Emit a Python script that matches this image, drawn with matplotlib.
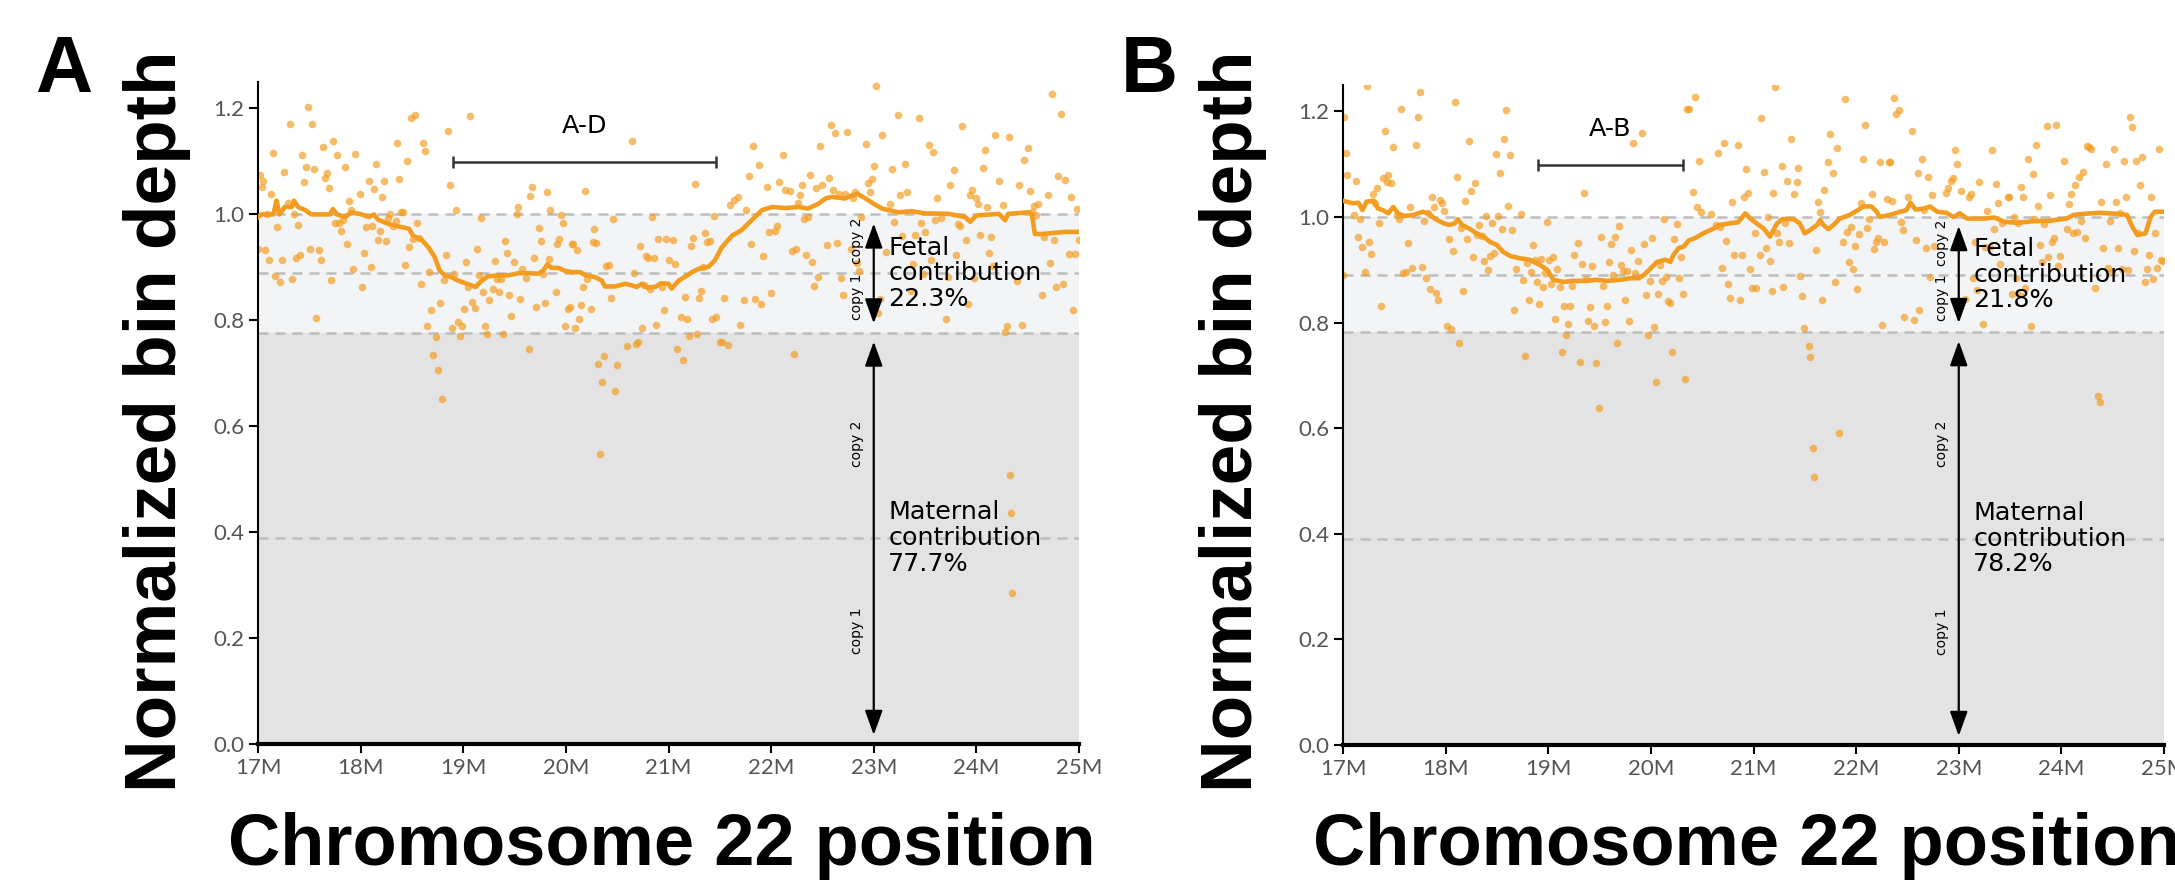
import matplotlib.pyplot as plt
from matplotlib.ticker import FixedLocator, FuncFormatter

# ---- panel A: bin positions (Mb) and normalized depth ----
a_pos = [
    17.02, 17.04, 17.05, 17.00, 17.07, 17.09, 17.11, 17.13, 17.15, 17.17, 17.19, 17.21, 17.23, 17.25,
    17.29, 17.31, 17.33, 17.35, 17.37, 17.39, 17.41, 17.43, 17.45, 17.47, 17.49, 17.51, 17.53, 17.55,
    17.57, 17.59, 17.61, 17.63, 17.65, 17.67, 17.69, 17.71, 17.73, 17.75, 17.77, 17.79, 17.81, 17.83,
    17.85, 17.87, 17.89, 17.91, 17.93, 17.95, 17.99, 18.01, 18.03, 18.05, 18.08, 18.10, 18.11, 18.13,
    18.15, 18.17, 18.19, 18.21, 18.23, 18.25, 18.27, 18.29, 18.32, 18.34, 18.35, 18.37, 18.39, 18.41,
    18.43, 18.45, 18.47, 18.49, 18.51, 18.53, 18.55, 18.57, 18.59, 18.61, 18.63, 18.65, 18.67, 18.69,
    18.71, 18.73, 18.75, 18.77, 18.79, 18.81, 18.83, 18.85, 18.87, 18.89, 18.91, 18.93, 18.95, 18.97,
    18.99, 19.01, 19.03, 19.05, 19.07, 19.09, 19.11, 19.13, 19.15, 19.17, 19.19, 19.21, 19.23, 19.25,
    19.29, 19.31, 19.33, 19.35, 19.37, 19.39, 19.41, 19.43, 19.45, 19.47, 19.49, 19.52, 19.53, 19.55,
    19.57, 19.61, 19.64, 19.65, 19.67, 19.69, 19.71, 19.74, 19.76, 19.78, 19.80, 19.82, 19.84, 19.85,
    19.90, 19.91, 19.93, 19.95, 19.97, 19.99, 20.02, 20.04, 20.06, 20.07, 20.09, 20.11, 20.13, 20.15,
    20.17, 20.19, 20.21, 20.24, 20.26, 20.27, 20.29, 20.31, 20.33, 20.35, 20.37, 20.39, 20.42, 20.44,
    20.46, 20.48, 20.50, 20.60, 20.64, 20.66, 20.68, 20.70, 20.72, 20.74, 20.76, 20.78, 20.80, 20.82,
    20.84, 20.86, 20.88, 20.90, 20.94, 20.96, 20.98, 21.00,
    21.04, 21.06, 21.08, 21.12, 21.14, 21.16, 21.18, 21.20, 21.22, 21.24, 21.26, 21.28, 21.30, 21.32,
    21.34, 21.36, 21.38, 21.40, 21.42, 21.44, 21.46, 21.50, 21.52, 21.54, 21.58, 21.60, 21.64, 21.68,
    21.70, 21.74, 21.76, 21.78, 21.80, 21.82, 21.84, 21.88, 21.90, 21.92, 21.96, 21.98, 22.00, 22.04,
    22.06, 22.08, 22.12, 22.14, 22.18, 22.20, 22.22, 22.24, 22.26, 22.28, 22.30, 22.32, 22.34, 22.36,
    22.38, 22.40, 22.42, 22.44, 22.46, 22.48, 22.50, 22.54, 22.56, 22.58, 22.60, 22.62, 22.64, 22.66,
    22.68, 22.70, 22.72, 22.74, 22.78, 22.80, 22.82, 22.84, 22.86, 22.88, 22.92, 22.94, 22.96, 22.98,
    23.00, 23.02, 23.04, 23.06, 23.08, 23.12, 23.16, 23.18, 23.20, 23.24, 23.26, 23.28, 23.30, 23.32,
    23.36, 23.38, 23.40, 23.44, 23.46, 23.48, 23.50, 23.54, 23.56, 23.58, 23.60, 23.62, 23.66, 23.70,
    23.72, 23.74, 23.78, 23.80, 23.82, 23.84, 23.86, 23.90, 23.92, 23.94, 23.96, 23.98, 24.00, 24.02,
    24.04, 24.06, 24.08, 24.10, 24.12, 24.14, 24.16, 24.18, 24.22, 24.26, 24.28, 24.30, 24.32, 24.33,
    24.34, 24.35, 24.40, 24.42, 24.44, 24.46, 24.50, 24.52, 24.54, 24.56, 24.58, 24.60, 24.64, 24.66,
    24.70, 24.72, 24.74, 24.76, 24.78, 24.80, 24.82, 24.84, 24.86, 24.90, 24.92, 24.94, 24.96, 24.98,
    25.00,
]
a_depth = [
    1.074, 1.052, 1.063, 0.935, 0.932, 1.001, 0.914, 1.039, 1.116, 0.883, 0.976, 0.872, 0.914, 1.081,
    1.021, 1.170, 0.878, 1.000, 0.918, 0.980, 0.923, 1.113, 1.062, 1.090, 1.203, 0.935, 1.170, 1.085,
    0.805, 0.932, 0.914, 1.127, 1.069, 1.078, 1.050, 0.877, 1.138, 0.984, 1.113, 0.984, 0.968, 0.990,
    1.090, 0.945, 1.026, 1.008, 0.897, 1.114, 1.039, 0.862, 0.927, 0.976, 1.064, 0.901, 0.979, 1.048,
    1.096, 0.951, 0.968, 1.033, 1.064, 0.949, 0.993, 1.001, 0.978, 0.987, 1.135, 1.066, 1.004, 1.004,
    0.904, 1.100, 0.938, 1.182, 0.954, 1.188, 0.984, 0.956, 0.868, 1.134, 1.120, 0.789, 0.891, 0.819,
    0.735, 0.769, 0.707, 0.833, 0.652, 0.877, 0.924, 1.158, 1.055, 0.785, 0.888, 1.008, 0.797, 0.770,
    0.789, 0.821, 0.911, 0.863, 1.185, 0.835, 0.823, 0.935, 0.886, 0.993, 0.853, 0.789, 0.775, 0.839,
    0.860, 0.912, 0.878, 0.853, 0.878, 0.774, 0.950, 0.927, 0.847, 0.809, 0.910, 1.001, 1.014, 0.840,
    0.896, 0.880, 0.746, 1.034, 1.052, 0.917, 0.825, 0.974, 0.950, 0.888, 0.832, 1.042, 0.916, 1.008,
    0.853, 0.945, 0.954, 0.999, 0.984, 0.789, 0.822, 0.825, 0.945, 0.944, 0.785, 0.932, 0.803, 0.828,
    0.862, 1.045, 0.878, 0.822, 0.948, 0.972, 0.946, 0.718, 0.547, 0.684, 0.732, 0.902, 0.904, 0.843,
    0.991, 0.666, 0.715, 0.752, 1.138, 0.889, 0.755, 0.759, 0.940, 0.785, 0.867, 0.921, 0.918, 0.859,
    0.995, 0.918, 0.792, 0.953, 0.863, 0.819, 0.953, 0.914,
    0.951, 0.907, 0.745, 0.807, 0.725, 0.844, 0.802, 0.770, 0.941, 0.955, 1.058, 0.775, 0.842, 0.855,
    0.901, 0.965, 0.948, 0.950, 0.802, 0.997, 0.807, 0.759, 0.759, 0.842, 0.753, 1.017, 1.028, 1.033,
    0.791, 0.838, 1.009, 1.072, 0.945, 1.130, 0.840, 1.094, 0.830, 0.922, 1.052, 0.967, 0.852, 0.969,
    0.979, 1.061, 1.113, 1.047, 1.045, 0.931, 0.737, 0.935, 1.021, 1.036, 1.056, 0.992, 0.923, 0.996,
    1.075, 0.910, 0.865, 1.050, 0.882, 1.129, 1.056, 0.943, 1.068, 1.168, 1.046, 1.153, 0.946, 1.038,
    0.879, 0.848, 1.039, 1.155, 0.935, 1.031, 1.042, 0.909, 0.894, 0.995, 1.132, 1.059, 1.042, 1.066,
    1.091, 1.242, 0.813, 0.841, 1.149, 0.929, 1.020, 1.086, 0.986, 1.188, 1.036, 0.960, 1.096, 1.043,
    0.855, 0.906, 0.962, 1.182, 0.984, 0.888, 0.967, 1.131, 0.914, 1.117, 0.989, 1.031, 0.993, 0.802,
    0.882, 1.055, 1.084, 0.923, 0.982, 0.979, 1.166, 0.951, 0.830, 1.036, 1.047, 0.880, 1.031, 1.020,
    0.962, 1.087, 1.121, 1.014, 0.927, 0.957, 0.902, 1.149, 1.063, 1.018, 0.778, 0.789, 1.146, 0.508,
    0.436, 0.285, 0.874, 1.055, 0.792, 1.102, 1.126, 1.045, 1.004, 1.016, 0.998, 1.019, 0.848, 0.957,
    1.036, 0.908, 1.228, 0.951, 0.863, 1.072, 1.189, 0.869, 1.065, 0.926, 1.032, 0.819, 0.926, 1.011,
    0.951,
]
a_trend_pos = [
    16.97, 17.03, 17.10, 17.15, 17.18, 17.21, 17.26, 17.33, 17.35, 17.39, 17.46, 17.52, 17.70, 17.73,
    17.77, 17.85, 17.91, 18.01, 18.08, 18.13, 18.17, 18.27, 18.40, 18.47, 18.51, 18.60, 18.66, 18.72,
    18.77, 18.82, 18.88, 18.95, 19.05, 19.12, 19.18, 19.24, 19.34, 19.44, 19.54, 19.64, 19.73, 19.78,
    19.82, 19.86, 19.93, 19.98, 20.06, 20.14, 20.19, 20.28, 20.35, 20.38, 20.48, 20.58, 20.64, 20.69,
    20.74, 20.79, 20.87, 20.93, 21.00, 21.03, 21.10, 21.16, 21.23, 21.29, 21.39, 21.45, 21.52, 21.62,
    21.71, 21.81, 21.91, 22.01, 22.14, 22.27, 22.36, 22.46, 22.53, 22.59, 22.72, 22.79, 22.84, 22.92,
    23.00, 23.08, 23.24, 23.37, 23.50, 23.73, 23.89, 23.94, 24.00, 24.22, 24.28, 24.31, 24.51, 24.54,
    24.57, 24.64, 24.87, 25.00,
]
a_trend = [
    0.990, 1.000, 1.000, 1.000, 1.026, 1.000, 1.014, 1.014, 1.026, 1.014, 1.008, 1.000, 1.000, 1.010,
    1.000, 0.995, 1.004, 1.000, 0.995, 1.000, 0.990, 0.982, 0.976, 0.973, 0.960, 0.951, 0.938, 0.920,
    0.894, 0.885, 0.882, 0.875, 0.868, 0.863, 0.875, 0.883, 0.885, 0.885, 0.889, 0.889, 0.888, 0.894,
    0.906, 0.899, 0.899, 0.894, 0.891, 0.891, 0.885, 0.882, 0.875, 0.864, 0.864, 0.869, 0.866, 0.863,
    0.869, 0.862, 0.863, 0.870, 0.869, 0.860, 0.875, 0.882, 0.891, 0.897, 0.901, 0.913, 0.938, 0.960,
    0.970, 0.989, 1.008, 1.014, 1.012, 1.014, 1.011, 1.020, 1.030, 1.033, 1.030, 1.036, 1.039, 1.030,
    1.020, 1.011, 1.004, 1.006, 1.002, 1.001, 0.995, 0.986, 0.998, 1.001, 0.989, 1.001, 1.004, 1.001,
    0.963, 0.963, 0.967, 0.967,
]
a_fetal_pct = 22.3
a_region = [18.9, 21.46]
a_region_name = "A-D"

# ---- panel B ----
b_pos = [
    17.01, 17.03, 17.04, 17.00, 17.11, 17.13, 17.15, 17.17, 17.19, 17.21, 17.23, 17.25, 17.27, 17.29,
    17.31, 17.33, 17.35, 17.37, 17.39, 17.41, 17.43, 17.44, 17.47, 17.49, 17.53, 17.55, 17.57, 17.58,
    17.61, 17.63, 17.65, 17.67, 17.71, 17.73, 17.75, 17.77, 17.79, 17.81, 17.83, 17.85, 17.87, 17.89,
    17.91, 17.93, 17.95, 17.96, 17.98, 18.01, 18.03, 18.05, 18.07, 18.09, 18.11, 18.13, 18.15, 18.17,
    18.19, 18.21, 18.23, 18.25, 18.27, 18.29, 18.31, 18.33, 18.35, 18.37, 18.39, 18.41, 18.43, 18.45,
    18.47, 18.49, 18.51, 18.53, 18.55, 18.57, 18.59, 18.61, 18.63, 18.65, 18.67, 18.69, 18.73, 18.75,
    18.77, 18.79, 18.81, 18.83, 18.85, 18.87, 18.89, 18.91, 18.93, 18.95, 18.97, 18.99, 19.01, 19.03,
    19.05, 19.07, 19.09, 19.11, 19.13, 19.15, 19.17, 19.19, 19.21, 19.23, 19.25, 19.29, 19.31, 19.33,
    19.35, 19.37, 19.39, 19.41, 19.43, 19.45, 19.47, 19.49, 19.51, 19.53, 19.55, 19.57, 19.59, 19.61,
    19.63, 19.65, 19.67, 19.69, 19.71, 19.73, 19.75, 19.77, 19.79, 19.81, 19.83, 19.85, 19.87, 19.91,
    19.93, 19.95, 19.97, 19.99, 20.01, 20.03, 20.05, 20.07, 20.09, 20.11, 20.13, 20.15, 20.17, 20.19,
    20.21, 20.23, 20.25, 20.27, 20.29, 20.31, 20.33, 20.35, 20.37, 20.41, 20.43, 20.45, 20.47, 20.49,
    20.59, 20.63, 20.65, 20.67, 20.69, 20.71, 20.73, 20.75, 20.77, 20.79, 20.81, 20.85, 20.87, 20.89,
    20.91, 20.93, 20.95, 20.97, 20.99, 21.01,
    21.02, 21.06, 21.07, 21.10, 21.12, 21.14, 21.16, 21.18, 21.19, 21.21, 21.23, 21.25, 21.28, 21.29,
    21.31, 21.33, 21.35, 21.37, 21.39, 21.42, 21.43, 21.45, 21.47, 21.49, 21.54, 21.55, 21.58, 21.59,
    21.61, 21.63, 21.65, 21.67, 21.69, 21.73, 21.75, 21.77, 21.79, 21.81, 21.83, 21.87, 21.89, 21.91,
    21.93, 21.95, 21.97, 21.99, 22.01, 22.03, 22.05, 22.07, 22.09, 22.11, 22.13, 22.15, 22.17, 22.19,
    22.21, 22.23, 22.25, 22.27, 22.30, 22.32, 22.33, 22.35, 22.37, 22.39, 22.42, 22.44, 22.46, 22.47,
    22.51, 22.54, 22.56, 22.58, 22.60, 22.61, 22.64, 22.66, 22.68, 22.70, 22.72, 22.74, 22.76, 22.88,
    22.90, 22.92, 22.94, 22.96, 22.98, 23.00, 23.02, 23.06, 23.10, 23.12, 23.14, 23.16, 23.18, 23.20,
    23.24, 23.26, 23.28, 23.30, 23.32, 23.34, 23.36, 23.38, 23.40, 23.42, 23.48, 23.49, 23.52, 23.54,
    23.56, 23.58, 23.60, 23.61, 23.63, 23.65, 23.67, 23.70, 23.72, 23.73, 23.75, 23.77, 23.79, 23.81,
    23.83, 23.86, 23.87, 23.89, 23.91, 23.93, 23.95, 23.97, 23.99, 24.03, 24.05, 24.07, 24.09, 24.11,
    24.13, 24.15, 24.17, 24.19, 24.21, 24.23, 24.25, 24.27, 24.29, 24.33, 24.36, 24.38, 24.39, 24.41,
    24.43, 24.45, 24.47, 24.49, 24.51, 24.53, 24.55, 24.57, 24.59, 24.61, 24.63, 24.65, 24.67, 24.69,
    24.71, 24.73, 24.75, 24.77, 24.79, 24.81, 24.83, 24.85, 24.87, 24.89, 24.91, 24.93, 24.95, 24.97,
    24.99,
]
b_depth = [
    1.190, 1.121, 1.080, 0.890, 1.004, 1.068, 0.963, 0.997, 0.943, 0.896, 1.249, 0.953, 0.930, 1.043,
    1.027, 1.054, 0.989, 0.831, 1.073, 1.163, 1.067, 1.080, 1.065, 1.132, 1.004, 0.997, 1.204, 0.894,
    0.895, 0.950, 1.019, 0.903, 1.136, 1.190, 1.237, 0.906, 0.992, 0.884, 1.007, 0.863, 1.038, 1.019,
    0.857, 0.842, 1.032, 1.027, 1.012, 0.794, 0.958, 0.788, 0.936, 1.218, 1.076, 0.762, 0.980, 0.860,
    1.030, 0.958, 1.143, 1.049, 0.925, 1.065, 0.965, 0.985, 0.964, 0.917, 1.002, 0.900, 0.926, 0.988,
    0.932, 1.119, 1.002, 1.083, 0.977, 1.148, 1.203, 1.021, 1.117, 0.976, 0.823, 0.901, 1.006, 0.880,
    0.737, 0.912, 0.843, 0.895, 0.947, 0.919, 0.876, 0.836, 0.921, 0.867, 0.893, 0.990, 0.919, 0.873,
    0.925, 0.806, 0.901, 0.867, 0.744, 0.832, 0.776, 0.797, 0.832, 0.869, 0.928, 0.951, 0.725, 0.911,
    1.045, 0.882, 0.803, 0.830, 0.907, 0.794, 0.723, 0.639, 0.962, 0.869, 0.802, 0.832, 0.915, 0.949,
    0.890, 0.963, 0.762, 0.983, 0.909, 0.898, 0.842, 0.898, 0.803, 0.937, 1.141, 0.894, 0.917, 1.160,
    0.949, 0.853, 0.777, 0.879, 0.961, 0.792, 0.688, 0.855, 0.909, 0.879, 0.997, 0.886, 0.840, 0.838,
    0.745, 0.958, 0.986, 0.884, 0.924, 0.855, 0.694, 1.204, 1.204, 1.048, 1.228, 1.019, 1.106, 1.009,
    1.006, 0.984, 1.122, 0.982, 0.903, 1.141, 0.954, 0.874, 0.847, 1.028, 0.928, 1.136, 0.842, 0.928,
    1.038, 1.090, 1.045, 0.901, 0.865, 0.969,
    0.866, 0.928, 1.187, 1.086, 0.941, 1.000, 0.917, 0.860, 1.045, 1.246, 0.969, 0.952, 1.097, 0.867,
    0.988, 1.069, 0.951, 1.148, 1.043, 1.067, 1.092, 0.889, 0.850, 0.790, 0.756, 0.734, 0.563, 0.508,
    0.937, 1.028, 1.009, 0.842, 1.052, 1.104, 1.158, 1.083, 0.876, 1.130, 0.591, 0.953, 1.224, 0.972,
    0.915, 0.982, 0.901, 0.946, 0.863, 0.968, 1.026, 1.109, 1.174, 0.980, 0.997, 1.043, 0.939, 0.953,
    0.961, 1.105, 0.795, 0.952, 1.035, 1.105, 1.105, 1.030, 1.225, 1.195, 1.203, 0.991, 0.975, 0.810,
    1.038, 1.163, 0.805, 0.956, 1.084, 0.823, 1.109, 1.013, 0.941, 1.076, 0.886, 1.042, 0.945, 1.045,
    1.054, 1.069, 1.073, 1.127, 1.100, 0.951, 1.049, 0.844, 1.038, 1.043, 0.884, 0.953, 0.862, 1.067,
    0.797, 0.944, 1.012, 0.944, 1.127, 0.977, 1.062, 1.026, 0.911, 0.988, 1.038, 1.038, 0.855, 1.000,
    0.884, 0.988, 0.852, 1.056, 1.037, 0.865, 1.110, 0.793, 1.081, 0.997, 1.136, 1.021, 0.947, 0.914,
    0.986, 1.172, 0.925, 1.042, 0.953, 0.960, 1.174, 0.907, 0.926, 1.107, 0.977, 1.025, 1.043, 0.969,
    1.061, 0.972, 1.076, 0.992, 1.085, 0.961, 1.135, 1.132, 1.128, 0.865, 0.661, 0.650, 1.028, 0.941,
    1.100, 0.903, 0.993, 0.896, 1.128, 1.029, 0.941, 1.007, 0.901, 1.106, 1.038, 0.900, 1.189, 1.171,
    0.936, 1.107, 0.969, 1.061, 1.114, 0.876, 0.901, 0.928, 1.038, 0.882, 0.969, 0.903, 1.128, 0.919,
    0.917,
]
b_trend_pos = [
    16.97, 17.03, 17.10, 17.15, 17.19, 17.23, 17.30, 17.34, 17.39, 17.44, 17.49, 17.54, 17.60, 17.69,
    17.78, 17.83, 17.90, 17.98, 18.04, 18.09, 18.12, 18.16, 18.24, 18.30, 18.37, 18.43, 18.50, 18.56,
    18.63, 18.72, 18.82, 18.92, 18.99, 19.05, 19.15, 19.24, 19.37, 19.47, 19.57, 19.70, 19.80, 19.88,
    19.93, 20.00, 20.06, 20.14, 20.19, 20.22, 20.27, 20.32, 20.37, 20.43, 20.51, 20.61, 20.67, 20.77,
    20.85, 20.92, 20.97, 21.03, 21.10, 21.16, 21.23, 21.28, 21.39, 21.45, 21.50, 21.55, 21.62, 21.65,
    21.68, 21.73, 21.78, 21.84, 21.94, 22.04, 22.07, 22.15, 22.20, 22.23, 22.33, 22.43, 22.49, 22.53,
    22.58, 22.66, 22.72, 22.79, 22.88, 22.95, 23.01, 23.08, 23.24, 23.35, 23.44, 23.57, 23.73, 23.89,
    24.05, 24.12, 24.22, 24.38, 24.54, 24.64, 24.69, 24.74, 24.82, 24.87, 24.91, 25.00,
]
b_trend = [
    1.033, 1.029, 1.026, 1.027, 1.013, 1.029, 1.031, 1.016, 1.013, 1.007, 1.019, 1.006, 1.002, 1.004,
    1.010, 1.007, 0.996, 0.988, 0.985, 0.988, 0.996, 0.985, 0.977, 0.969, 0.963, 0.953, 0.947, 0.934,
    0.926, 0.922, 0.919, 0.909, 0.900, 0.881, 0.877, 0.879, 0.879, 0.881, 0.879, 0.881, 0.884, 0.884,
    0.890, 0.903, 0.915, 0.919, 0.915, 0.928, 0.941, 0.944, 0.956, 0.960, 0.969, 0.978, 0.985, 0.988,
    0.990, 1.007, 0.997, 0.988, 0.978, 0.963, 0.988, 0.996, 0.996, 0.988, 0.969, 0.975, 0.985, 0.994,
    0.985, 0.977, 0.985, 0.997, 1.004, 1.016, 1.020, 1.020, 1.010, 1.000, 1.004, 1.010, 1.013, 1.027,
    1.014, 1.016, 1.020, 1.010, 1.008, 1.000, 1.007, 0.997, 0.997, 0.999, 0.991, 0.989, 0.992, 0.993,
    0.997, 1.004, 1.006, 1.008, 1.006, 1.004, 0.982, 0.966, 0.969, 1.000, 1.010, 1.010,
]
b_fetal_pct = 21.8
b_region = [18.9, 20.31]
b_region_name = "A-B"

x_ticks = [17, 18, 19, 20, 21, 22, 23, 24, 25]
y_ticks = [0.0, 0.2, 0.4, 0.6, 0.8, 1.0, 1.2]
marker_pos = 23.0

ORANGE = "#f39c1f"
TICK_FONT = "Lato"
NOTE_FONT = "DejaVu Sans"
LABEL_FONT = "Liberation Sans"


def draw_panel(fig, rect, letter, letter_x, ylabel_x, pos, depth, trend_pos, trend,
               fetal_pct, region, region_name):
    ax = fig.add_axes(rect)
    fetal = fetal_pct / 100
    maternal = 1 - fetal

    ax.axhspan(0, maternal, color="#e3e3e3", lw=0, zorder=0)
    ax.axhspan(maternal, 1.0, color="#f3f4f6", lw=0, zorder=0)
    for lvl in [1.0, 1 - fetal / 2, maternal, maternal / 2]:
        ax.axhline(lvl, color="#bdbdbd", lw=1.8, ls=(0, (4, 2.8)), zorder=1)

    ax.scatter(pos, depth, s=30, color=ORANGE, alpha=0.68, lw=0, zorder=2)
    ax.plot(trend_pos, trend, color=ORANGE, lw=3.3, zorder=3, solid_joinstyle="round")

    # region bar
    mid = (region[0] + region[1]) / 2
    ax.errorbar(mid, 1.099, xerr=(region[1] - region[0]) / 2, color="#333333", lw=1.8,
                capsize=4.5, capthick=1.8, zorder=4)
    ax.text(mid, 1.166, region_name, ha="center", va="center", fontsize=18.3,
            family=NOTE_FONT, zorder=4)

    # contribution arrows
    arrow_kw = dict(arrowstyle="<|-|>,head_length=1.0,head_width=0.36", color="black",
                    lw=1.6, shrinkA=6.5, shrinkB=6.5, mutation_scale=15)
    ax.annotate("", xy=(marker_pos, maternal), xytext=(marker_pos, 1.0), arrowprops=arrow_kw, zorder=5)
    ax.annotate("", xy=(marker_pos, 0.0), xytext=(marker_pos, maternal), arrowprops=arrow_kw, zorder=5)

    copy_kw = dict(textcoords="offset points", xytext=(-12, 0), rotation=90, ha="center",
                   va="center", fontsize=10, family="DejaVu Sans", zorder=5)
    ax.annotate("copy 1", xy=(marker_pos, maternal + 0.3 * fetal), **copy_kw)
    ax.annotate("copy 2", xy=(marker_pos, maternal + 0.78 * fetal), **copy_kw)
    ax.annotate("copy 1", xy=(marker_pos, 0.274 * maternal), **copy_kw)
    ax.annotate("copy 2", xy=(marker_pos, 0.73 * maternal), **copy_kw)

    note_kw = dict(textcoords="offset points", xytext=(10.5, 0), ha="left", va="center",
                   fontsize=18.3, family=NOTE_FONT, linespacing=1.1, zorder=5)
    ax.annotate(f"Fetal\ncontribution\n{fetal_pct:.1f}%", xy=(marker_pos, 1 - fetal / 2), **note_kw)
    ax.annotate(f"Maternal\ncontribution\n{100 - fetal_pct:.1f}%", xy=(marker_pos, maternal / 2), **note_kw)

    ax.set_xlim(17, 25)
    ax.set_ylim(0, 1.25)
    ax.xaxis.set_major_locator(FixedLocator(x_ticks))
    ax.xaxis.set_major_formatter(FuncFormatter(lambda v, p: f"{v:.0f}M"))
    ax.yaxis.set_major_locator(FixedLocator(y_ticks))
    ax.yaxis.set_major_formatter(FuncFormatter(lambda v, p: f"{v:.1f}"))

    for s in ["top", "right"]:
        ax.spines[s].set_visible(False)
    ax.spines["left"].set_linewidth(1.5)
    ax.spines["bottom"].set_linewidth(3)
    ax.set_facecolor("white")
    ax.tick_params(direction="out", length=6.5, width=1.5, color="black",
                   labelcolor="#555555", labelsize=16, pad=3.5)
    for lab in ax.get_xticklabels() + ax.get_yticklabels():
        lab.set_family(TICK_FONT)

    # panel letter and big axis labels
    fig.text(letter_x, 1 - 92 / 881, letter, ha="left", va="baseline", fontsize=57,
             fontweight="bold", family=LABEL_FONT)
    fig.text(ylabel_x, 0.522, "Normalized bin depth", rotation=90, ha="center", va="center",
             fontsize=52.5, fontweight="bold", family=LABEL_FONT)
    fig.text(rect[0] + rect[2] / 2 - 0.003, 0.040, "Chromosome 22 position", ha="center", va="center",
             fontsize=52, fontweight="bold", family=LABEL_FONT)
    return ax


def main():
    plt.rcParams["font.family"] = [TICK_FONT, "DejaVu Sans"]
    fig = plt.figure(figsize=(21.75, 8.81), dpi=100)

    draw_panel(fig, [258 / 2175, 137 / 881, 821 / 2175, 662 / 881], "A", 35 / 2175, 157 / 2175,
               a_pos, a_depth, a_trend_pos, a_trend, a_fetal_pct, a_region, a_region_name)
    draw_panel(fig, [1343 / 2175, 136 / 881, 821 / 2175, 660 / 881], "B", 1121 / 2175, 1233 / 2175,
               b_pos, b_depth, b_trend_pos, b_trend, b_fetal_pct, b_region, b_region_name)

    fig.savefig("out.png", dpi=100)


if __name__ == "__main__":
    main()
